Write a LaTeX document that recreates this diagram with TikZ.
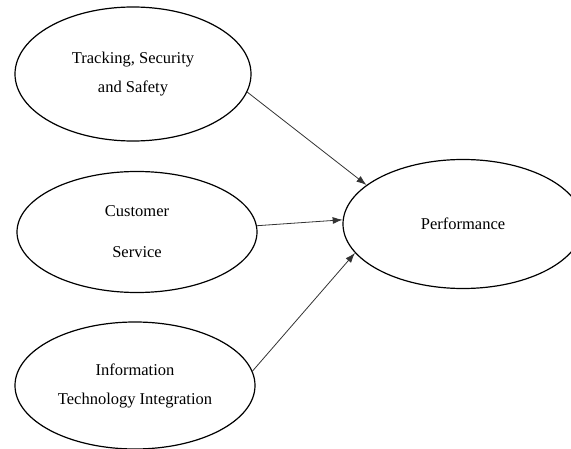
\documentclass[tikz,border=0pt]{standalone}
\usepackage{fontspec}
\setmainfont{Liberation Serif}
\usetikzlibrary{arrows.meta,positioning,shapes}
\tikzset{
    %Define standard arrow tip
    >={Latex[length=10pt,width=7pt]},
    %Define style for constructs
    varnode/.style={
             ellipse,
             draw=black, line width=1.2pt,
             inner sep=0pt,
             align=center,
             font=\fontsize{16.5}{29}\selectfont},
    % Define arrow style
    patharrow/.style={
            ->,
            line width=0.8pt,
            draw=black!80}
}

\begin{document}
\begin{tikzpicture}[x=1pt,y=1pt]
    \useasboundingbox (0,0) rectangle (571,448);
    \node[varnode, minimum width=236pt, minimum height=134pt] (track) at (133,374) {Tracking, Security\\and Safety};
    \node[varnode, minimum width=240pt, minimum height=121pt] (service) at (137,216) {Customer\\[12pt]Service};
    \node[varnode, minimum width=240pt, minimum height=127pt] (itint) at (135,62.5) {Information\\Technology Integration};
    \node[varnode, minimum width=240pt, minimum height=129pt] (perf) at (463,224) {Performance};
    \path (track.-9) edge[patharrow] (perf.158)
    (service.3) edge[patharrow] (perf.178)
    (itint.7) edge[patharrow] (perf.195);
\end{tikzpicture}
\end{document}
